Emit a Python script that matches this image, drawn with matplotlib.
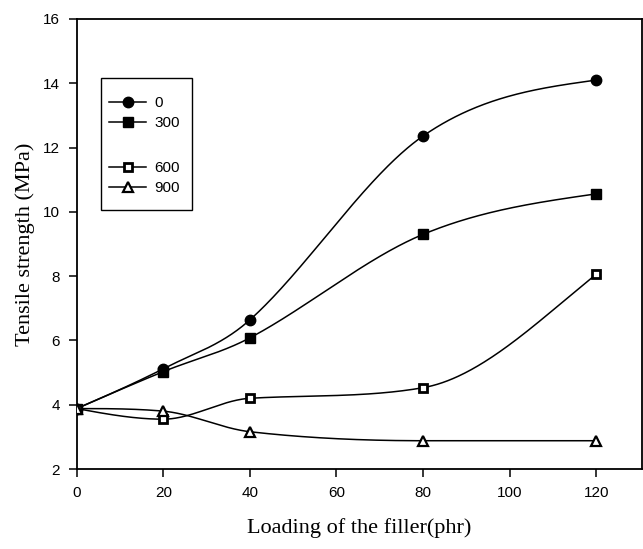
import numpy as np
import matplotlib
matplotlib.use("Agg")
import matplotlib.pyplot as plt
from matplotlib.lines import Line2D
from matplotlib.patches import Rectangle

# Filler loading (phr) and tensile strength (MPa) for each irradiation dose
loading = [0, 20, 40, 80, 120]
series_labels = ["0", "300", "600", "900"]
ts_0 = [3.88, 5.12, 6.64, 12.36, 14.10]
ts_300 = [3.88, 5.03, 6.08, 9.30, 10.56]
ts_600 = [3.88, 3.55, 4.20, 4.53, 8.06]
ts_900 = [3.88, 3.80, 3.16, 2.88, 2.88]

x_ticks = [0, 20, 40, 60, 80, 100, 120]
y_ticks = [2, 4, 6, 8, 10, 12, 14, 16]


def smooth_curve(x, y, xs):
    """Cubic Hermite curve through (x, y) with centred slopes, flattened at extrema."""
    x = np.asarray(x, float)
    y = np.asarray(y, float)
    h = np.diff(x)
    d = np.diff(y) / h
    n = len(x)
    m = np.zeros(n)
    for k in range(1, n - 1):
        if d[k - 1] * d[k] > 0:
            m[k] = (y[k + 1] - y[k - 1]) / (x[k + 1] - x[k - 1])
        else:
            m[k] = 0.0
    m[0] = 1.5 * d[0] - 0.5 * m[1]
    m[-1] = 1.5 * d[-1] - 0.5 * m[-2]
    if d[0] == 0 or np.sign(m[0]) != np.sign(d[0]):
        m[0] = 0.0
    if d[-1] == 0 or np.sign(m[-1]) != np.sign(d[-1]):
        m[-1] = 0.0
    # keep each segment free of overshoot
    for k in range(n - 1):
        if d[k] == 0:
            m[k] = m[k + 1] = 0.0
            continue
        a, b = m[k] / d[k], m[k + 1] / d[k]
        s = a * a + b * b
        if s > 9:
            t = 3 / np.sqrt(s)
            m[k], m[k + 1] = t * a * d[k], t * b * d[k]
    idx = np.clip(np.searchsorted(x, xs) - 1, 0, n - 2)
    t = (xs - x[idx]) / h[idx]
    h00 = 2 * t**3 - 3 * t**2 + 1
    h10 = t**3 - 2 * t**2 + t
    h01 = -2 * t**3 + 3 * t**2
    h11 = t**3 - t**2
    return (h00 * y[idx] + h10 * h[idx] * m[idx]
            + h01 * y[idx + 1] + h11 * h[idx] * m[idx + 1])


plt.rcParams["font.family"] = ["Liberation Sans", "DejaVu Sans"]

fig = plt.figure(figsize=(6.43, 5.49), dpi=100)
ax = fig.add_axes([0.1193, 0.1457, 0.8787, 0.8197])

styles = [
    dict(marker="o", markersize=7.5, markerfacecolor="black", markeredgecolor="black"),
    dict(marker="s", markersize=6.8, markerfacecolor="black", markeredgecolor="black"),
    dict(marker="s", markersize=6.3, markerfacecolor="white", markeredgecolor="black",
         markeredgewidth=2.0),
    dict(marker="^", markersize=6.8, markerfacecolor="white", markeredgecolor="black",
         markeredgewidth=1.6),
]

xs = np.linspace(loading[0], loading[-1], 400)
handles = []
for vals, lab, st in zip([ts_0, ts_300, ts_600, ts_900], series_labels, styles):
    ax.plot(xs, smooth_curve(loading, vals, xs), color="black", lw=1.1, zorder=2)
    ax.plot(loading, vals, linestyle="none", zorder=3, **st)
    handles.append(Line2D([], [], color="black", lw=1.1, label=lab, **st))

# legend entries, with a spacer row between the 300 and 600 doses
blank = Line2D([], [], linestyle="none", label=" ")
leg_handles = [handles[0], handles[1], blank, handles[2], handles[3]]
leg = ax.legend(handles=leg_handles, loc="upper left", bbox_to_anchor=(0.058, 0.829),
                borderaxespad=0, borderpad=0, frameon=False, fontsize=11,
                handlelength=2.4, handletextpad=0.55, labelspacing=0.4)
leg.get_texts()[2].set_fontsize(15)
ax.add_patch(Rectangle((0.043, 0.5756), 0.161, 0.2934, transform=ax.transAxes,
                       facecolor="none", edgecolor="black", lw=1.0, zorder=4))

ax.set_xlim(0, 130.5)
ax.set_ylim(2, 16)
ax.set_xticks(x_ticks)
ax.set_yticks(y_ticks)
ax.tick_params(direction="out", length=6, width=1.1, labelsize=11, pad=6)
for sp in ax.spines.values():
    sp.set_linewidth(1.3)

ax.set_xlabel("Loading of the filler(phr)", family=["Liberation Serif", "DejaVu Serif"],
              fontsize=16, labelpad=13)
ax.set_ylabel("Tensile strength (MPa)", family=["Liberation Serif", "DejaVu Serif"],
              fontsize=16, labelpad=6)

fig.savefig("out.png", dpi=100)
